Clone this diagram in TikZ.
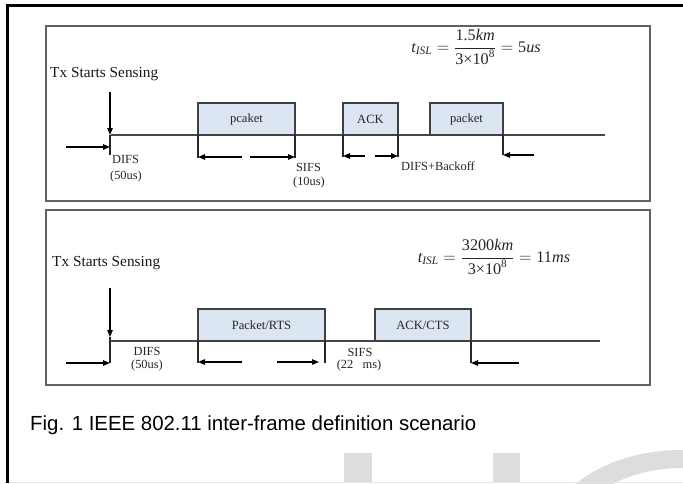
\documentclass[tikz,border=0pt]{standalone}
\usepackage{fontspec}
\usepackage{amsmath}
\setmainfont{Liberation Serif}
\newfontfamily\capfont{Liberation Sans}
\usetikzlibrary{arrows.meta}
\definecolor{boxblue}{HTML}{DCE6F2}
\definecolor{wmgray}{HTML}{DDDDDD}
\begin{document}
\begin{tikzpicture}[x=1pt,y=-1pt,
  panel/.style={draw=black!62, line width=1.3pt, inner sep=0pt, outer sep=0pt, minimum width=604pt, minimum height=175pt},
  pbox/.style={draw=black!75, fill=boxblue, line width=1.2pt, inner sep=0pt, outer sep=0pt, minimum height=32pt, font=\fontsize{12.6}{14}\selectfont, text=black!85},
  tline/.style={draw=black!72, line width=1.2pt},
  edge/.style={draw=black!85, line width=1.2pt},
  arr/.style={draw=black, line width=1.2pt, -{Triangle[length=7pt,width=5.5pt]}},
  lbl/.style={font=\fontsize{12.4}{14}\selectfont, inner sep=0pt, text=black!85},
  title/.style={font=\fontsize{15.3}{17}\selectfont, inner sep=0pt, anchor=base west, text=black!90},
  formula/.style={font=\fontsize{16.2}{18}\selectfont, inner sep=0pt, text=black!85},
]
\fill[white] (0,0) rectangle (683,483);
\useasboundingbox (0,0) rectangle (683,483);

% watermark
\begin{scope}
\clip (0,0) rectangle (683,483);
\fill[wmgray] (344,453) rectangle (372,483);
\fill[wmgray] (493,453) rectangle (520,483);
\fill[wmgray, even odd rule] (682,540) ellipse [x radius=136, y radius=90]
                              (682,540) ellipse [x radius=110, y radius=72];
\end{scope}
\draw[black!10, line width=0.8pt] (8,482) -- (683,482);

% outer frame
\coordinate (fTR) at (683,5.5);
\coordinate (fTL) at (7.5,5.5);
\coordinate (fBL) at (7.5,483);
\draw[line width=2.4pt] (fTR) -- (fTL) -- (fBL);

% ================= panel 1 =================
\node[panel] (P1) at (348,113.5) {};
\node[title] (tx1) at (50,77.3) {Tx Starts Sensing};

\coordinate (v1a) at (110,92);
\coordinate (v1b) at (110,135);
\coordinate (v1c) at (110,155);
\draw[arr] (v1a) -- (v1b);
\draw[edge] (v1b) -- (v1c);
\coordinate (h1a) at (66,147);
\coordinate (h1b) at (110,147);
\draw[arr] (h1a) -- (h1b);

\coordinate (t1s) at (111,135);
\coordinate (t1e) at (605,135);
\draw[tline] (t1s) -- (t1e);

\node[pbox, minimum width=97pt] (pk1) at (246.5,119) {pcaket};
\node[pbox, minimum width=55pt] (ack1) at (370.5,119) {ACK};
\node[pbox, minimum width=73pt] (pk2) at (466.5,119) {packet};

\coordinate (pk1L) at (198,158);
\coordinate (pk1R) at (295,158);
\draw[edge] (pk1.south west) -- (pk1L);
\draw[edge] (pk1.south east) -- (pk1R);
\coordinate (a1) at (242,157);
\coordinate (a2) at (250,157);
\draw[arr] (a1) -- (pk1L |- a1);
\draw[arr] (a2) -- (pk1R |- a2);

\coordinate (ack1L) at (343,157);
\coordinate (ack1R) at (398,157);
\draw[edge] (ack1.south west) -- (ack1L);
\draw[edge] (ack1.south east) -- (ack1R);
\coordinate (a3) at (365,156);
\coordinate (a4) at (375,156);
\draw[arr] (a3) -- (ack1L |- a3);
\draw[arr] (a4) -- (ack1R |- a4);

\coordinate (pk2R) at (503,155);
\draw[edge] (pk2.south east) -- (pk2R);
\coordinate (a5) at (534,155);
\draw[arr] (a5) -- (pk2R);

\node[lbl] (difs1) at (125.5,159) {DIFS};
\node[lbl] (difs1b) at (126,177) {(50us)};
\node[lbl] (sifs1) at (308.5,167) {SIFS};
\node[lbl] (sifs1b) at (309,183) {(10us)};
\node[lbl] (bo1) at (438,166.5) {DIFS+Backoff};

\node[formula] (f1) at (476,47) {$\textit{t}_{\textit{ISL}} = \dfrac{\text{1.5}\textit{km}}{\text{3×10}^{\text{8}}} = \text{5}\textit{us}$};

% ================= panel 2 =================
\node[panel] (P2) at (348,297.5) {};
\node[title] (tx2) at (52,266.7) {Tx Starts Sensing};

\coordinate (v2a) at (110,288);
\coordinate (v2b) at (110,337);
\coordinate (v2c) at (110,363);
\draw[arr] (v2a) -- (v2b);
\draw[edge] (v2b) -- (v2c);
\coordinate (h2a) at (66,363);
\coordinate (h2b) at (110,363);
\draw[arr] (h2a) -- (h2b);

\coordinate (t2s) at (110,341);
\coordinate (t2e) at (600,341);
\draw[tline] (t2s) -- (t2e);

\node[pbox, minimum width=127pt] (rts) at (261.5,325) {Packet/RTS};
\node[pbox, minimum width=96pt] (cts) at (423,325) {ACK/CTS};

\coordinate (rtsL) at (198,363);
\coordinate (rtsR) at (325,363);
\draw[edge] (rts.south west) -- (rtsL);
\draw[edge] (rts.south east) -- (rtsR);
\coordinate (b1) at (242,362);
\coordinate (b2) at (277,362);
\coordinate (b2e) at (319,362);
\draw[arr] (b1) -- (rtsL |- b1);
\draw[arr] (b2) -- (b2e);

\coordinate (ctsR) at (471,363);
\draw[edge] (cts.south east) -- (ctsR);
\coordinate (b3) at (519,363);
\draw[arr] (b3) -- (ctsR);

\node[lbl] (difs2) at (147,351) {DIFS};
\node[lbl] (difs2b) at (147,366) {(50us)};
\node[lbl] (sifs2) at (360,352) {SIFS};
\node[lbl] (sifs2b) at (359,366) {(22\ \ \ ms)};

\node[formula] (f2) at (494,257) {$\textit{t}_{\textit{ISL}} = \dfrac{\text{3200}\textit{km}}{\text{3×10}^{\text{8}}} = \text{11}\textit{ms}$};

% caption
\node[inner sep=0pt, anchor=base west, font=\capfont\fontsize{20.4}{24}\selectfont] (cap) at (30,430) {Fig. 1 IEEE 802.11 inter-frame definition scenario};
\end{tikzpicture}
\end{document}
